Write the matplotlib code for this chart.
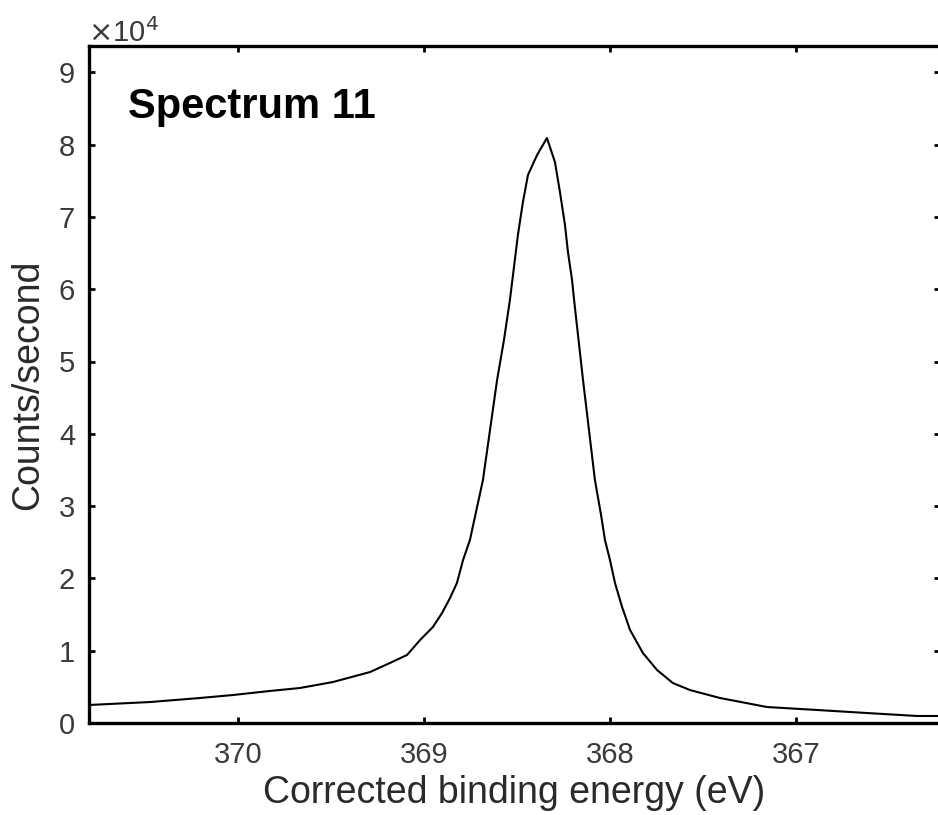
import matplotlib
matplotlib.use("Agg")
import matplotlib.pyplot as plt
from matplotlib.ticker import FuncFormatter

# spectrum (binding energy in eV, counts/second)
energy = [370.800, 370.472, 370.203, 370.026, 369.827, 369.666, 369.488, 369.289,
          369.182, 369.090, 369.020, 368.951, 368.902, 368.859, 368.822, 368.789,
          368.752, 368.682, 368.644, 368.606, 368.569, 368.537, 368.494, 368.467,
          368.440, 368.391, 368.338, 368.295, 368.268, 368.241, 368.225, 368.203,
          368.192, 368.144, 368.112, 368.080, 368.047, 368.026, 367.999, 367.972,
          367.934, 367.891, 367.822, 367.746, 367.661, 367.569, 367.408, 367.155,
          366.886, 366.617, 366.348, 366.235]
counts = [2490, 2900, 3460, 3870, 4430, 4840, 5670, 7050,
          8300, 9410, 11480, 13280, 15210, 17290, 19360, 22540,
          25310, 33610, 40530, 47440, 52970, 58510, 67500, 72060,
          75800, 78560, 80910, 77590, 73440, 68880, 65150, 61270,
          58510, 47440, 40530, 33610, 28770, 25310, 22540, 19360,
          16040, 12860, 9680, 7330, 5530, 4560, 3460, 2210,
          1800, 1380, 970, 970]

x_ticks = [370, 369, 368, 367]
y_ticks = [0, 1e4, 2e4, 3e4, 4e4, 5e4, 6e4, 7e4, 8e4, 9e4]
title_text = 'Spectrum 11'

plt.rcParams['font.family'] = ['Liberation Sans', 'DejaVu Sans']

W, H = 938, 815
fig = plt.figure(figsize=(W / 100, H / 100), dpi=100)
ax = fig.add_axes([89 / W, (H - 723) / H, (940 - 89) / W, (723 - 46) / H])

ax.plot(energy, counts, color='black', lw=1.5)

ax.set_xlim(370.8, 370.8 - (940 - 89) / 186)
ax.set_ylim(0, (723 - 46) / 72.3 * 1e4)
ax.set_xticks(x_ticks)
ax.set_yticks(y_ticks)
ax.yaxis.set_major_formatter(FuncFormatter(lambda v, p: f'{v / 1e4:g}'))

ax.tick_params(direction='in', length=4, width=2, top=True, right=True,
               labelsize=21, labelcolor='#3a3a3a')
ax.tick_params(axis='y', pad=10)
ax.tick_params(axis='x', pad=13)
for s in ax.spines.values():
    s.set_linewidth(2.4)

ax.set_xlabel('Corrected binding energy (eV)', fontsize=27, color='#2a2a2a', labelpad=4)
ax.set_ylabel('Counts/second', fontsize=27, color='#2a2a2a')
ax.yaxis.set_label_coords(-0.0505, 0.5)

ax.text(128 / W, 1 - 118 / H, title_text, transform=fig.transFigure,
        fontsize=30, fontweight='bold', ha='left', va='baseline')
ax.text(88 / W, 1 - 42 / H, r'$\times$10$^4$', transform=fig.transFigure,
        fontsize=21, color='#3a3a3a', ha='left', va='baseline')

fig.savefig('out.png', dpi=100, facecolor='white')
